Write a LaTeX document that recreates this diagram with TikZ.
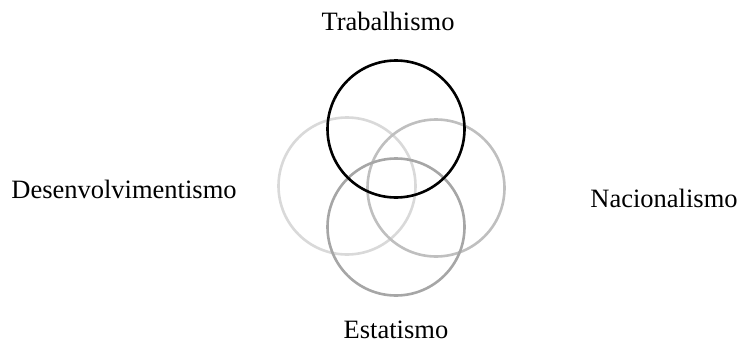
\documentclass[tikz,border=0pt]{standalone}
\usepackage{fontspec}
\setmainfont{Liberation Serif}
\usetikzlibrary{positioning}
\definecolor{ring1}{RGB}{0,0,0}
\definecolor{ring2}{RGB}{217,217,217}
\definecolor{ring3}{RGB}{191,191,191}
\definecolor{ring4}{RGB}{166,166,166}
\tikzset{
  ring/.style={circle,draw=#1,line width=2.6pt,minimum size=137pt,inner sep=0pt},
  ring/.default=ring1,
  lbl/.style={font=\fontsize{26.5}{30}\selectfont,anchor=base,inner sep=0pt},
}
\begin{document}
\begin{tikzpicture}[x=1pt,y=-1pt]
  \useasboundingbox (0,0) rectangle (741,343);
  % rings
  \node[ring=ring2] (desenv) at (347,186) {};
  \node[ring=ring3] (nacion) at (436,188) {};
  \node[ring=ring4] (estat) at (396,227) {};
  \node[ring=ring1] (trab) at (396,129) {};
  % labels
  \node[lbl] (ltrab) at (388,30) {Trabalhismo};
  \node[lbl] (ldesenv) at (124,198) {Desenvolvimentismo};
  \node[lbl] (lnacion) at (664,207) {Nacionalismo};
  \node[lbl] (lestat) at (396,338) {Estatismo};
\end{tikzpicture}
\end{document}
